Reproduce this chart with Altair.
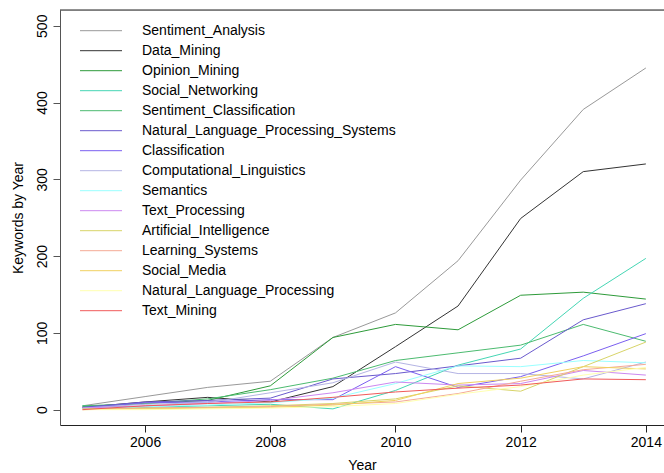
import altair as alt
import pandas as pd

# Yearly keyword counts per research topic
years = [2005, 2006, 2007, 2008, 2009, 2010, 2011, 2012, 2013, 2014]

topics = [
    "Sentiment_Analysis",
    "Data_Mining",
    "Opinion_Mining",
    "Social_Networking",
    "Sentiment_Classification",
    "Natural_Language_Processing_Systems",
    "Classification",
    "Computational_Linguistics",
    "Semantics",
    "Text_Processing",
    "Artificial_Intelligence",
    "Learning_Systems",
    "Social_Media",
    "Natural_Language_Processing",
    "Text_Mining",
]

sentiment_analysis = [5, 17, 29, 37, 94, 126, 194, 299, 391, 445]
data_mining = [3, 10, 16, 10, 30, 82, 135, 249, 310, 320]
opinion_mining = [4, 8, 12, 31, 94, 111, 104, 149, 153, 144]
social_networking = [5, 3, 5, 7, 1, 25, 58, 79, 145, 197]
sentiment_classification = [5, 8, 14, 26, 41, 64, 74, 84, 111, 89]
nlp_systems = [3, 10, 12, 15, 40, 47, 57, 67, 117, 138]
classification = [2, 9, 10, 13, 13, 56, 29, 43, 70, 99]
computational_linguistics = [2, 7, 9, 22, 35, 62, 47, 47, 40, 62]
semantics = [1, 4, 6, 9, 15, 34, 57, 56, 64, 61]
text_processing = [2, 5, 8, 12, 22, 36, 32, 34, 51, 45]
artificial_intelligence = [1, 2, 3, 5, 8, 14, 31, 24, 56, 88]
learning_systems = [0, 2, 3, 4, 7, 10, 21, 37, 52, 59]
social_media = [0, 1, 2, 3, 6, 12, 34, 41, 56, 53]
natural_language_processing = [0, 0, 1, 2, 4, 8, 20, 30, 45, 55]
text_mining = [0, 5, 8, 10, 16, 23, 28, 32, 40, 39]

series = [
    sentiment_analysis, data_mining, opinion_mining, social_networking,
    sentiment_classification, nlp_systems, classification,
    computational_linguistics, semantics, text_processing,
    artificial_intelligence, learning_systems, social_media,
    natural_language_processing, text_mining,
]

colors = [
    "#999999", "#333333", "#2e9b3a", "#45d6b4", "#4cbb70", "#6a5acd",
    "#7b5ff0", "#b4b4e4", "#99ffff", "#cc88f0", "#d8d468", "#f4aa96",
    "#f0d060", "#ffffb0", "#f05a5a",
]

rows = []
for order, (name, values) in enumerate(zip(topics, series)):
    for year, value in zip(years, values):
        rows.append({"Year": year, "Count": value, "Topic": name, "order": order})
df = pd.DataFrame(rows)
key_df = pd.DataFrame({"Topic": topics, "order": list(range(len(topics)))})

font = "Liberation Sans"
color_scale = alt.Scale(domain=topics, range=colors)

lines = alt.Chart(df).mark_line(strokeWidth=1, clip=True).encode(
    x=alt.X(
        "Year:Q",
        scale=alt.Scale(domain=[2004.64, 2014.29], nice=False, zero=False),
        axis=alt.Axis(
            values=[2006, 2008, 2010, 2012, 2014], format="d", grid=False,
            tickSize=7, labelPadding=3, labelFontSize=14, titleFontSize=14,
            labelColor="#000", titleColor="#000", labelFont=font, titleFont=font,
            domainColor="#222", tickColor="#222", titlePadding=9,
            titleFontWeight="normal", labelFlush=False,
        ),
        title="Year",
    ),
    y=alt.Y(
        "Count:Q",
        scale=alt.Scale(domain=[-20, 520.5], nice=False, zero=False),
        axis=alt.Axis(
            values=[0, 100, 200, 300, 400, 500], grid=False, labelAngle=-90,
            tickSize=7, labelPadding=4, labelFontSize=14, titleFontSize=14,
            labelColor="#000", titleColor="#000", labelFont=font, titleFont=font,
            domainColor="#555", tickColor="#555", titlePadding=10,
            titleFontWeight="normal", labelFlush=False,
        ),
        title="Keywords by Year",
    ),
    color=alt.Color("Topic:N", scale=color_scale, legend=None),
    detail="order:O",
    order="order:O",
)

# key: one short line and one label per topic, stacked down the upper left
key_y = alt.Y(
    "Topic:N",
    scale=alt.Scale(type="point", domain=topics, range=[20.7, 300.7], padding=0),
    axis=None,
)
key_lines = alt.Chart(key_df).mark_rule(strokeWidth=1).encode(
    x=alt.value(20), x2=alt.value(62), y=key_y,
    color=alt.Color("Topic:N", scale=color_scale, legend=None),
)
key_text = alt.Chart(key_df).mark_text(
    align="left", baseline="middle", fontSize=14, font=font, color="#000"
).encode(x=alt.value(82), y=key_y, text="Topic:N")

# frame line along the top of the plotting region
top_rule = alt.Chart(pd.DataFrame({"v": [0]})).mark_rule(color="#222", strokeWidth=1).encode(
    x=alt.value(0), x2=alt.value(604), y=alt.value(0)
)

key = alt.layer(key_lines, key_text)

chart = alt.layer(lines, key, top_rule).resolve_scale(y="independent").properties(
    width=604, height=415,
    autosize=alt.AutoSizeParams(type="none"),
    padding={"left": 60, "top": 10, "right": 0, "bottom": 48},
).configure_view(stroke=None).configure(background="white")

chart.save("out.html", embed_options={"renderer": "svg", "actions": False})
